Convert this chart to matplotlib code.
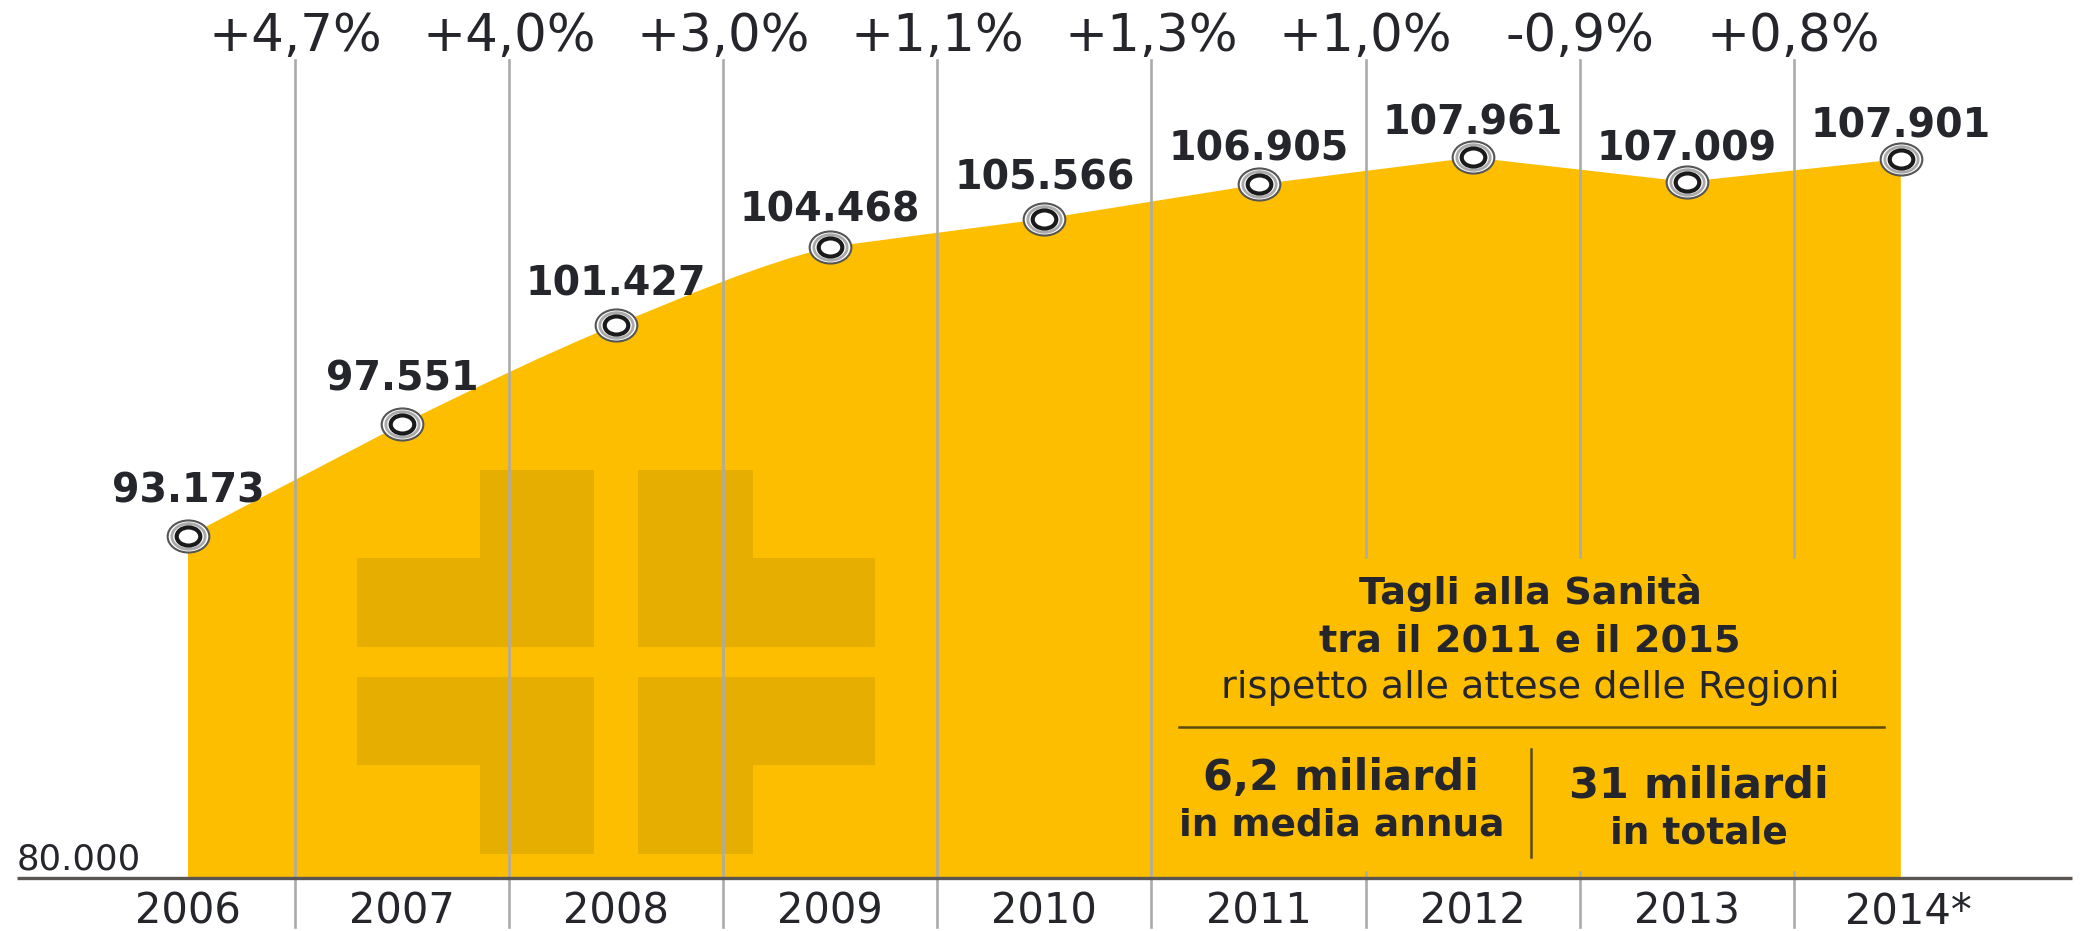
import matplotlib
matplotlib.use("Agg")
import matplotlib.pyplot as plt
from matplotlib.patches import PathPatch, Rectangle
from matplotlib.path import Path
from matplotlib.transforms import Affine2D

plt.rcParams['font.family'] = ['DejaVu Sans']

# --- Data ---
years = [2006, 2007, 2008, 2009, 2010, 2011, 2012, 2013, 2014]
year_labels = ['2006', '2007', '2008', '2009', '2010', '2011', '2012', '2013', '2014*']
spesa = [93173, 97551, 101427, 104468, 105566, 106905, 107961, 107009, 107901]
spesa_labels = ['93.173', '97.551', '101.427', '104.468', '105.566',
                '106.905', '107.961', '107.009', '107.901']
variazioni = ['+4,7%', '+4,0%', '+3,0%', '+1,1%', '+1,3%', '+1,0%', '-0,9%', '+0,8%']
label_offsets = [44, 44, 40, 36, 40, 35, 34, 32, 32]  # px above the marker

# --- Colours ---
GIALLO = '#FDBE00'
CROCE = '#E6AE00'
GRIGIO = '#ABABAB'
TESTO = '#25262C'

W, H = 2080, 931
fig = plt.figure(figsize=(W / 100, H / 100), dpi=100)
ax = fig.add_axes([0, 0, 1, 1])
ax.axis('off')

# x scale: 2006 at px 188, one year = 214.1 px
# y scale: 93173 at px 536, 0.0256 px per unit
ax.set_xlim(2006 - 188 / 214.1, 2006 + (W - 188) / 214.1)
ax.set_ylim(93173 - (H - 536) / 0.0256, 93173 + 536 / 0.0256)

# pixel transform, y from the top as in the reference
px = Affine2D().scale(1, -1).translate(0, H)

base_value = 93173 - (878 - 536) / 0.0256

# Area outline: only 2007-2009 is rounded, the rest is straight
verts = [(years[0], base_value), (years[0], spesa[0])]
codes = [Path.MOVETO, Path.LINETO]
for i in range(len(years) - 1):
    if i in (1, 2):
        c1 = (years[i] + 1 / 3, spesa[i] + (spesa[i + 1] - spesa[i - 1]) / 6)
        c2 = (years[i + 1] - 1 / 3, spesa[i + 1] - (spesa[i + 2] - spesa[i]) / 6)
        verts += [c1, c2, (years[i + 1], spesa[i + 1])]
        codes += [Path.CURVE4, Path.CURVE4, Path.CURVE4]
    else:
        verts.append((years[i + 1], spesa[i + 1]))
        codes.append(Path.LINETO)
verts += [(years[-1], base_value), (years[0], base_value)]
codes += [Path.LINETO, Path.CLOSEPOLY]
ax.add_patch(PathPatch(Path(verts, codes), facecolor=GIALLO, lw=0, zorder=1))

# Cross in the background
cross_parts = [
    (357, 558, 237, 89), (480, 470, 114, 177), (638, 470, 115, 177), (638, 558, 237, 89),
    (357, 677, 237, 88), (480, 677, 114, 177), (638, 677, 115, 177), (638, 677, 237, 88),
]
for x0, y0, w, h in cross_parts:
    ax.add_patch(Rectangle((x0, y0), w, h, transform=px, color=CROCE, lw=0, zorder=2))

# Separators between years, the last three stop above the box
for i, var in enumerate(variazioni):
    xpx = ax.transData.transform((years[i] + 0.5, 0))[0]
    if years[i] >= 2011:
        ax.plot([xpx, xpx], [60, 557], transform=px, color=GRIGIO, lw=1.9, zorder=3)
        ax.plot([xpx, xpx], [872, 927], transform=px, color=GRIGIO, lw=1.9, zorder=3)
    else:
        ax.plot([xpx, xpx], [60, 927], transform=px, color=GRIGIO, lw=1.9, zorder=3)
    ax.text(xpx, 37, var, transform=px, ha='center', va='center', fontsize=37,
            color=TESTO, zorder=5)

# Base line
ax.plot([17, 2072], [878, 878], transform=px, color='#5A5550', lw=2.4, zorder=4,
        solid_capstyle='butt')

# Markers, slightly oval like the reference
oval = Path.unit_circle().transformed(Affine2D().scale(1.3, 1))
ax.plot(years, spesa, ls='none', marker=oval, ms=30, mfc='white', mec='#555555', mew=1.5, zorder=6)
ax.plot(years, spesa, ls='none', marker=oval, ms=24, mfc='white', mec='#AAAAAA', mew=2, zorder=7)
ax.plot(years, spesa, ls='none', marker=oval, ms=17, mfc='white', mec='#1A1A1A', mew=3, zorder=8)

# Value labels
for x, y, lab, dy in zip(years, spesa, spesa_labels, label_offsets):
    ax.annotate(lab, (x, y), xytext=(0, dy * 0.72), textcoords='offset points',
                ha='center', va='center', fontsize=28.5, fontweight='bold', color=TESTO, zorder=9)

# Year labels
for x, lab in zip(years, year_labels):
    xpx = ax.transData.transform((x, 0))[0]
    if lab.endswith('*'):
        xpx += 8
    ax.text(xpx, 911, lab, transform=px, ha='center', va='center', fontsize=30, color=TESTO, zorder=5)
ax.text(17, 860, '80.000', transform=px, ha='left', va='center', fontsize=25.5, color=TESTO, zorder=5)

# Box with the cuts
ax.text(1530, 593, 'Tagli alla Sanità', transform=px, ha='center', va='center',
        fontsize=27.5, fontweight='bold', color=TESTO, zorder=5)
ax.text(1530, 641, 'tra il 2011 e il 2015', transform=px, ha='center', va='center',
        fontsize=27.5, fontweight='bold', color=TESTO, zorder=5)
ax.text(1530, 688, 'rispetto alle attese delle Regioni', transform=px, ha='center', va='center',
        fontsize=27.5, color=TESTO, zorder=5)
ax.plot([1179, 1884], [727, 727], transform=px, color='#5A4A10', lw=1.8, zorder=5)
ax.plot([1531, 1531], [749, 857], transform=px, color='#5A4A10', lw=1.8, zorder=5)
ax.text(1341, 778, '6,2 miliardi', transform=px, ha='center', va='center',
        fontsize=31, fontweight='bold', color=TESTO, zorder=5)
ax.text(1342, 826, 'in media annua', transform=px, ha='center', va='center',
        fontsize=27, fontweight='bold', color=TESTO, zorder=5)
ax.text(1699, 786, '31 miliardi', transform=px, ha='center', va='center',
        fontsize=31, fontweight='bold', color=TESTO, zorder=5)
ax.text(1699, 834, 'in totale', transform=px, ha='center', va='center',
        fontsize=27, fontweight='bold', color=TESTO, zorder=5)

fig.savefig('out.png', dpi=100)
